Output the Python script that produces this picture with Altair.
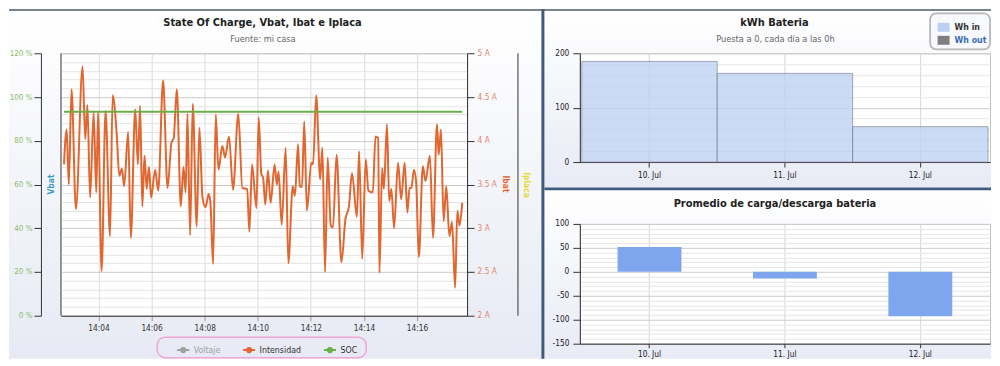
import altair as alt
import pandas as pd

FONT = "DejaVu Sans Condensed, DejaVu Sans, sans-serif"

# ------------------------------------------------------------------ data
# Left panel: battery current "Intensidad" (A), 14:02:42 - 14:17:42
times = [
    "14:02:42", "14:02:48", "14:02:53", "14:02:59", "14:03:09", "14:03:24", "14:03:30", "14:03:35", "14:03:41", "14:03:49",
    "14:03:55", "14:03:59", "14:04:07", "14:04:16", "14:04:26", "14:04:32", "14:04:41", "14:04:47", "14:04:53", "14:04:58",
    "14:05:07", "14:05:13", "14:05:23", "14:05:29", "14:05:34", "14:05:39", "14:05:44", "14:05:49", "14:05:54", "14:05:59",
    "14:06:08", "14:06:15", "14:06:26", "14:06:36", "14:06:45", "14:06:50", "14:06:57", "14:07:06", "14:07:12", "14:07:17",
    "14:07:21", "14:07:27", "14:07:33", "14:07:42", "14:07:48", "14:07:55", "14:08:02", "14:08:09", "14:08:13", "14:08:19",
    "14:08:25", "14:08:31", "14:08:40", "14:08:46", "14:08:55", "14:09:04", "14:09:16", "14:09:25", "14:09:36", "14:09:41",
    "14:09:47", "14:09:57", "14:10:02", "14:10:08", "14:10:12", "14:10:17", "14:10:23", "14:10:29", "14:10:38", "14:10:43",
    "14:10:47", "14:10:54", "14:11:03", "14:11:09", "14:11:19", "14:11:24", "14:11:31", "14:11:35", "14:11:40", "14:11:45",
    "14:11:51", "14:12:01", "14:12:05", "14:12:12", "14:12:21", "14:12:26", "14:12:32", "14:12:38", "14:12:45", "14:12:50",
    "14:12:58", "14:13:09", "14:13:18", "14:13:26", "14:13:33", "14:13:44", "14:13:49", "14:13:56", "14:14:04", "14:14:10",
    "14:14:20", "14:14:26", "14:14:32", "14:14:35", "14:14:41", "14:14:45", "14:14:52", "14:14:57", "14:15:02", "14:15:08",
    "14:15:17", "14:15:24", "14:15:32", "14:15:38", "14:15:43", "14:15:47", "14:15:53", "14:15:58", "14:16:04", "14:16:13",
    "14:16:19", "14:16:29", "14:16:36", "14:16:45", "14:16:49", "14:16:54", "14:17:00", "14:17:06", "14:17:13", "14:17:19",
    "14:17:26", "14:17:31", "14:17:36", "14:17:42",
]
ibat = [
    3.73, 4.13, 3.50, 4.59, 3.22, 4.85, 4.02, 4.41, 3.35, 4.32,
    3.41, 4.32, 2.51, 4.34, 2.91, 4.52, 4.09, 3.60, 3.68, 3.48,
    4.10, 2.89, 4.36, 3.73, 4.40, 3.25, 3.83, 3.45, 3.70, 3.35,
    3.67, 3.43, 4.69, 3.46, 3.98, 4.03, 4.59, 3.25, 3.70, 3.41,
    4.31, 2.92, 4.42, 3.02, 4.15, 3.35, 3.24, 3.39, 3.29, 2.59,
    4.30, 3.67, 3.94, 3.81, 4.05, 3.44, 4.31, 3.46, 3.45, 2.96,
    3.73, 3.23, 4.27, 3.62, 3.58, 3.27, 3.66, 3.29, 3.73, 3.50,
    3.65, 3.04, 3.92, 2.60, 3.48, 3.37, 3.96, 3.48, 3.47, 4.22,
    3.20, 3.75, 3.73, 4.52, 3.56, 3.92, 2.50, 3.81, 3.03, 3.01,
    3.84, 2.61, 3.10, 3.25, 3.63, 3.13, 3.88, 2.65, 3.79, 3.43,
    3.41, 4.05, 4.03, 2.49, 3.69, 3.45, 4.19, 3.31, 3.45, 3.00,
    3.75, 3.33, 3.75, 3.18, 3.46, 3.46, 3.67, 3.52, 2.67, 3.71,
    3.54, 3.83, 2.89, 4.19, 3.84, 4.13, 3.08, 3.48, 2.91, 3.07,
    2.32, 3.20, 3.03, 3.29,
]
soc_times = ["14:02:42", "14:17:42"]
soc = [93.3, 93.3]
series = ["Voltaje", "Intensidad", "SOC"]
series_colors = ["#a0a0a0", "#e2662f", "#6aaf45"]
time_ticks = ["14:04", "14:06", "14:08", "14:10", "14:12", "14:14", "14:16"]
soc_ticks = [0, 20, 40, 60, 80, 100, 120]
ibat_ticks = [round(2 + 0.1 * i, 1) for i in range(31)]

# Right panels
days = ["10. Jul", "11. Jul", "12. Jul"]
wh_in = [185, 163, 65]
wh_series = ["Wh in", "Wh out"]
wh_colors = ["#bad0f3", "#7f7f7f"]
wh_ticks = list(range(0, 201, 20))
promedio = [52, -14, -93]
prom_ticks = list(range(-150, 101, 10))

DAY = "2024-07-12"


def dt(hms):
    p = [int(v) for v in hms.split(":")] + [0, 0]
    return alt.DateTime(year=2024, month=7, date=12, hours=p[0], minutes=p[1], seconds=p[2])


def cond(test, a, b):
    return {"condition": {"test": test, "value": a}, "value": b}


ONE = alt.Data(values=[{"k": 0}])


def deco_text(text, x, y, size, color, weight="normal", angle=0):
    return alt.Chart(ONE).mark_text(
        text=text, font=FONT, fontSize=size, fontWeight=weight, color=color,
        angle=angle, align="center", baseline="middle"
    ).encode(x=alt.value(x), y=alt.value(y))


def deco_rule(x, y1, y2, color, width=1.0):
    return alt.Chart(ONE).mark_rule(color=color, strokeWidth=width).encode(
        x=alt.value(x), y=alt.value(y1), y2=alt.value(y2))


def deco_rect(x1, x2, y1, y2, **kw):
    return alt.Chart(ONE).mark_rect(**kw).encode(
        x=alt.value(x1), x2=alt.value(x2), y=alt.value(y1), y2=alt.value(y2))


def grad(c1, c2):
    return alt.LinearGradient(
        gradient="linear",
        stops=[alt.GradientStop(offset=0, color=c1), alt.GradientStop(offset=1, color=c2)],
        x1=0, x2=0, y1=0, y2=1)


LBL = 8.3

# ------------------------------------------------------------------ left chart
W, H = 407, 263
df_i = pd.DataFrame({"t": [f"{DAY}T{t}" for t in times], "v": ibat, "serie": "Intensidad"})
df_s = pd.DataFrame({"t": [f"{DAY}T{t}" for t in soc_times], "v": soc, "serie": "SOC"})

x_time = alt.X(
    "t:T",
    scale=alt.Scale(domain=[dt("14:02:35"), dt("14:17:53")]),
    axis=alt.Axis(title=None, values=[dt(t) for t in time_ticks], format="%H:%M", grid=True,
                  gridColor="#dadada", domainColor="#333333", tickColor="#999999", tickSize=5,
                  labelPadding=3, labelFontSize=LBL, labelColor="#333333", labelFlush=False),
)
maj_i = "abs(datum.value*2 - round(datum.value*2)) < 0.001"
y_ibat = alt.Y(
    "v:Q",
    scale=alt.Scale(domain=[2, 5], nice=False, zero=False),
    axis=alt.Axis(orient="right", title=None, values=ibat_ticks, labelOverlap=False,
                  labelExpr=f"{maj_i} ? datum.value + ' A' : ''",
                  tickOpacity=cond(maj_i, 1, 0),
                  gridColor=cond(maj_i, "#cbcbcb", "#e4e4e4"),
                  grid=True, domainColor="#333333", tickColor="#333333", tickSize=7,
                  labelPadding=3, labelColor="#e5866a", labelFontSize=LBL),
)
y_soc = alt.Y(
    "v:Q",
    scale=alt.Scale(domain=[0, 120], nice=False),
    axis=alt.Axis(orient="left", offset=20, title=None, values=soc_ticks, grid=False,
                  labelExpr="datum.value + ' %'", domainColor="#333333", tickColor="#333333",
                  tickSize=7, labelPadding=2, labelColor="#88bd68", labelFontSize=8),
)
SYM = "M-1,0H1M-0.35,0A0.35,0.35,0,1,0,0.35,0A0.35,0.35,0,1,0,-0.35,0"
leg_left = alt.Legend(
    title=None, orient="none", legendX=115.6, legendY=290, direction="horizontal", padding=0,
    symbolType=SYM, symbolSize=144, symbolStrokeWidth=2, labelFontSize=8.8, labelOffset=3.5,
    columnPadding=18, labelColor=alt.ExprRef(expr="datum.label === 'Voltaje' ? '#a0a0a0' : '#333333'"),
)
col_left = alt.Color("serie:N", scale=alt.Scale(domain=series, range=series_colors), legend=leg_left)

ibat_line = alt.Chart(df_i).mark_line(interpolate="monotone", strokeWidth=2).encode(
    x=x_time, y=y_ibat, color=col_left)
soc_line = alt.Chart(df_s).mark_line(strokeWidth=2).encode(x=x_time, y=y_soc, color=col_left)

left = alt.layer(
    deco_rule(0, 0, H, "#555555"),
    deco_rule(458, 0, H, "#333333"),
    deco_text("State Of Charge, Vbat, Ibat e Iplaca", 202, -30, 11, "#222222", "bold"),
    deco_text("Fuente: mi casa", 202.5, -14, 9.2, "#666666"),
    deco_text("Vbat", -10, 131.5, 8.5, "#3a9cc5", "bold", 270),
    deco_text("Ibat", 446, 131, 8.5, "#e8632b", "bold", 90),
    deco_text("Iplaca", 467, 132, 8.5, "#e2dd2e", "bold", 90),
    deco_rect(96.5, 306, 284.5, 305, fill="transparent", stroke="#f0a6d6", strokeWidth=1.5, cornerRadius=8),
    ibat_line,
    soc_line,
).resolve_scale(y="independent").properties(width=W, height=H)

# ------------------------------------------------------------------ right charts
W2, H2 = 411, 109
W3, H3 = 411, 120


def x_days(tick=5, pad=3):
    return alt.X(
        "dia:N", sort=days,
        scale=alt.Scale(domain=days, paddingInner=0, paddingOuter=0.0145),
        axis=alt.Axis(title=None, labelAngle=0, grid=True, gridColor="#d6d6d6",
                      domainColor="#333333", tickColor="#333333", tickSize=tick, labelPadding=pad,
                      labelFontSize=LBL, labelColor="#222222"),
    )


maj100 = "datum.value % 100 === 0"
y_wh = alt.Y(
    "wh:Q", scale=alt.Scale(domain=[0, 200], nice=False),
    axis=alt.Axis(title=None, values=wh_ticks, labelOverlap=False,
                  labelExpr=f"{maj100} ? '' + datum.value : ''",
                  tickOpacity=cond(maj100, 1, 0), gridColor=cond(maj100, "#cdcdcd", "#e6e6e6"),
                  domainColor="#333333", tickColor="#333333", tickSize=7, labelPadding=4,
                  labelFontSize=LBL, labelColor="#222222"),
)
leg_wh = alt.Legend(
    title=None, orient="none", legendX=358.5, legendY=-32, direction="vertical", padding=0,
    symbolType="M-1,-0.75H1V0.75H-1Z", symbolSize=144, symbolStrokeWidth=0, symbolOpacity=1,
    labelFontSize=8.8, labelFontWeight="bold", labelOffset=5, rowPadding=2,
    labelColor=alt.ExprRef(expr="datum.label === 'Wh out' ? '#3a6db3' : '#333333'"),
)
df_wh = pd.DataFrame({"dia": days, "wh": wh_in, "serie": "Wh in"})
wh_bars = alt.Chart(df_wh).mark_bar(opacity=0.75, stroke="#7d879a", strokeWidth=1).encode(
    x=x_days(), y=y_wh,
    color=alt.Color("serie:N", scale=alt.Scale(domain=wh_series, range=wh_colors), legend=leg_wh),
)
top_right = alt.layer(
    deco_text("kWh Bateria", 195, -30.3, 11, "#222222", "bold"),
    deco_text("Puesta a 0, cada día a las 0h", 196, -14.7, 9.2, "#666666"),
    deco_rect(351, 411, -40, -4, fill="#f8f9fc", stroke="#b8b8b8", strokeWidth=1.8, cornerRadius=6),
    wh_bars,
).properties(width=W2, height=H2)

maj50 = "datum.value % 50 === 0"
y_p = alt.Y(
    "v:Q", scale=alt.Scale(domain=[-150, 100], nice=False),
    axis=alt.Axis(title=None, values=prom_ticks, labelOverlap=False,
                  labelExpr=f"{maj50} ? '' + datum.value : ''",
                  tickOpacity=cond(maj50, 1, 0), gridColor=cond(maj50, "#cdcdcd", "#e6e6e6"),
                  domainColor="#333333", tickColor="#333333", tickSize=7, labelPadding=4,
                  labelFontSize=LBL, labelColor="#222222"),
)
df_p = pd.DataFrame({"dia": days, "v": promedio})
p_bars = alt.Chart(df_p).mark_bar(color="#7ea6ee", width=64).encode(x=x_days(4, 2), y=y_p)
bottom_right = alt.layer(
    deco_text("Promedio de carga/descarga bateria", 195.5, -19.5, 11, "#222222", "bold"),
    p_bars,
).properties(width=W3, height=H3)

# ------------------------------------------------------------------ frame (panel backgrounds)
OX, OY = 60, 51  # page position of the frame layer origin
R, B = 992, 358  # right / bottom page limits of the drawing


def frect(px1, px2, py1, py2, **kw):
    return deco_rect(px1 - OX, px2 - OX, py1 - OY, py2 - OY, **kw)


frame = alt.layer(
    frect(8, 541.5, 8, B, fill=grad("#ffffff", "#e7eaf4")),
    frect(544.5, R, 8, 186.5, fill=grad("#ffffff", "#e8ebf5")),
    frect(544.5, R, 189.2, B, fill=grad("#ffffff", "#e8ebf5")),
    frect(541.5, 544.5, 8, B, fill="#3d5b7f"),
    frect(544.5, R, 186.5, 189.2, fill="#3d5b7f"),
    frect(8, R, 8, 9.3, fill="#4a5a6b"),
).properties(width=1, height=1, view=alt.ViewBackground(fill="transparent", stroke="transparent"))

right = alt.vconcat(top_right, bottom_right, spacing=62, bounds="flush").resolve_scale(color="independent")
mid = alt.hconcat(left, right, spacing=113, bounds="flush").resolve_scale(color="independent")

chart = (
    alt.vconcat(frame, mid, spacing=0, bounds="flush")
    .resolve_scale(color="independent")
    .properties(padding=0, background="white")
    .configure_view(fill="white", stroke="#c0c0c0")
    .configure_axis(labelFont=FONT)
    .configure_legend(labelFont=FONT)
)

chart.save("out.html", embed_options={"renderer": "svg", "actions": False})
